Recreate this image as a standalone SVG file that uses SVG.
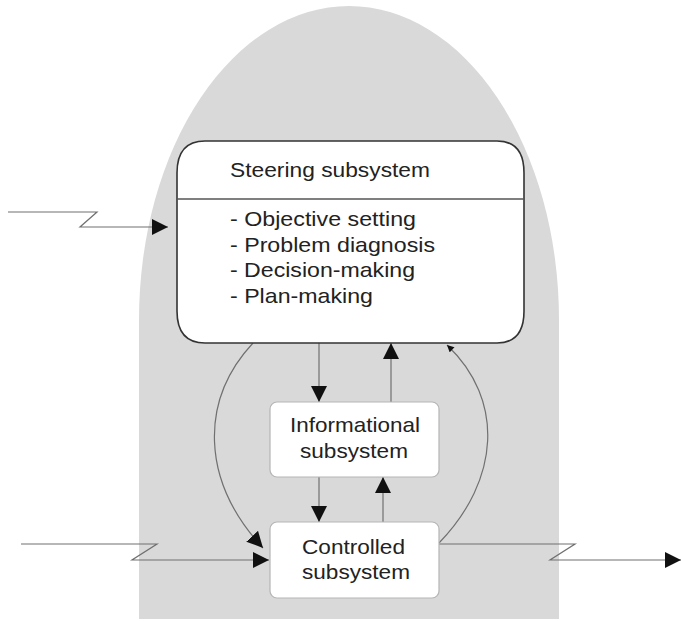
<svg xmlns="http://www.w3.org/2000/svg" width="681" height="621" viewBox="0 0 681 621">
  <style>
    .bg { fill: #d9d9d9; stroke: none; }
    .steer { fill: #ffffff; stroke: #333333; stroke-width: 1.6; }
    .box { fill: #ffffff; stroke: #b5b5b5; stroke-width: 1.2; }
    .div { stroke: #555555; stroke-width: 1.3; fill: none; }
    .conn { stroke: #707070; stroke-width: 1.2; fill: none; }
    .t { font-family: "Liberation Sans", Arial, sans-serif; font-size: 21px; fill: #222222; }
    .head { fill: #111111; stroke: none; }
  </style>
  <defs>
    <marker id="arr" viewBox="0 0 10 10" refX="10" refY="5" markerUnits="userSpaceOnUse" markerWidth="16" markerHeight="18" orient="auto">
      <path d="M0,0 L10,5 L0,10 Z" class="head"/>
    </marker>
    <marker id="arrSmall" viewBox="0 0 10 10" refX="10" refY="5" markerUnits="userSpaceOnUse" markerWidth="8" markerHeight="7" orient="auto">
      <path d="M0,0 L10,5 L0,10 Z" class="head"/>
    </marker>
  </defs>

  <path id="environment" class="bg" d="M139,619 V320 A210,314 0 0 1 559,320 V619 Z"/>

  <g id="connectors">
    <path class="conn" d="M8,212 H97 L80,227 H168" marker-end="url(#arr)"/>
    <path class="conn" d="M21,544 H157 L132,560 H269" marker-end="url(#arr)"/>
    <path class="conn" d="M439,544 H575 L550,560 H681" marker-end="url(#arr)"/>
    <path class="conn" d="M319,343 V402" marker-end="url(#arr)"/>
    <path class="conn" d="M391,402 V343" marker-end="url(#arr)"/>
    <path class="conn" d="M319,477 V522" marker-end="url(#arr)"/>
    <path class="conn" d="M383,522 V477" marker-end="url(#arr)"/>
    <path class="conn" d="M253,343 C200,400 200,480 263,548" marker-end="url(#arr)"/>
    <path class="conn" d="M439,543 C500,480 505,400 447,345" marker-end="url(#arrSmall)"/>
  </g>

  <g id="steering">
    <path class="steer" d="M205,141 H497 Q524,141 524,173 V311 Q524,343 497,343 H205 Q177,343 177,311 V173 Q177,141 205,141 Z"/>
    <line class="div" x1="177" y1="199" x2="524" y2="199"/>
    <text class="t" x="230" y="177" textLength="200" lengthAdjust="spacingAndGlyphs">Steering subsystem</text>
    <text class="t" x="230" y="226" textLength="186" lengthAdjust="spacingAndGlyphs">- Objective setting</text>
    <text class="t" x="230" y="252" textLength="205" lengthAdjust="spacingAndGlyphs">- Problem diagnosis</text>
    <text class="t" x="230" y="277" textLength="185" lengthAdjust="spacingAndGlyphs">- Decision-making</text>
    <text class="t" x="230" y="303" textLength="143" lengthAdjust="spacingAndGlyphs">- Plan-making</text>
  </g>

  <g id="informational">
    <rect class="box" x="270" y="402" width="169" height="75" rx="7" ry="7"/>
    <text class="t" x="290" y="432" textLength="130" lengthAdjust="spacingAndGlyphs">Informational</text>
    <text class="t" x="300" y="458" textLength="108" lengthAdjust="spacingAndGlyphs">subsystem</text>
  </g>

  <g id="controlled">
    <rect class="box" x="270" y="522" width="169" height="76" rx="7" ry="7"/>
    <text class="t" x="302" y="554" textLength="103" lengthAdjust="spacingAndGlyphs">Controlled</text>
    <text class="t" x="302" y="579" textLength="108" lengthAdjust="spacingAndGlyphs">subsystem</text>
  </g>
</svg>
